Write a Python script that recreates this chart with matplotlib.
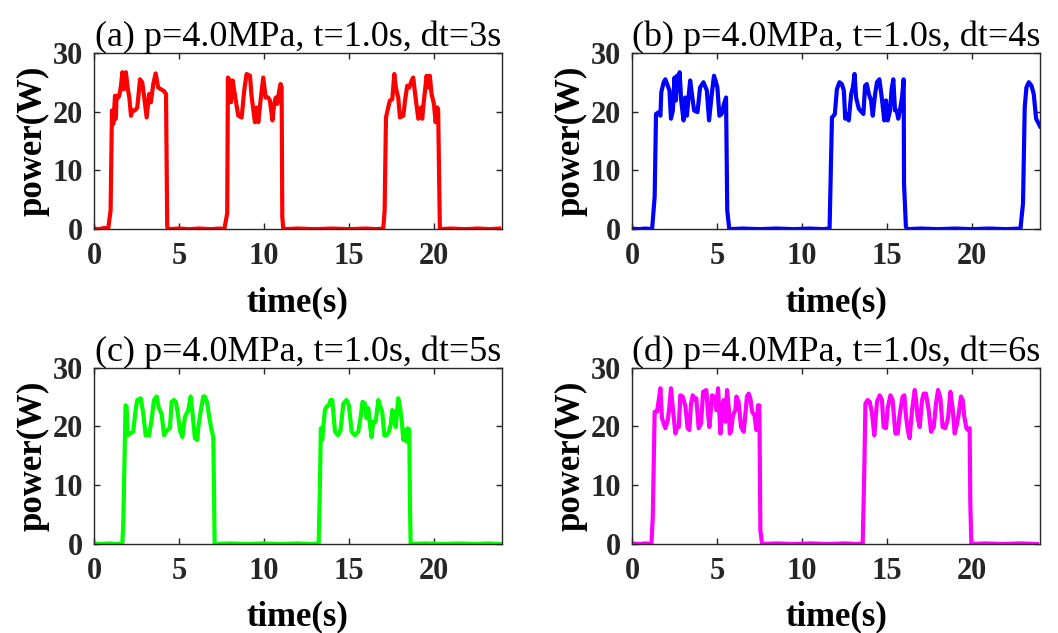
import matplotlib
matplotlib.use("Agg")
import matplotlib.pyplot as plt

plt.rcParams['font.family'] = ['Liberation Serif', 'DejaVu Serif']

# panel titles and colours
titles = ["(a) p=4.0MPa, t=1.0s, dt=3s", "(b) p=4.0MPa, t=1.0s, dt=4s",
          "(c) p=4.0MPa, t=1.0s, dt=5s", "(d) p=4.0MPa, t=1.0s, dt=6s"]
colors = ["#ff0000", "#0000ff", "#00ff00", "#ff00ff"]

# (a) dt=3s
t_a = [0, 0.3, 0.6, 0.84, 0.98, 1.06, 1.14, 1.24, 1.29, 1.33, 1.43, 1.49, 1.59, 1.67, 1.76, 1.82,
       1.88, 1.98, 2.08, 2.18, 2.27, 2.41, 2.55, 2.71, 2.84, 2.96, 3.10, 3.25, 3.35, 3.49, 3.63,
       3.78, 3.94, 4.12, 4.24, 4.31, 4.41, 5.0, 5.6, 6.2, 6.9, 7.4, 7.67, 7.84, 7.88, 8.0, 8.06,
       8.16, 8.25, 8.49, 8.69, 8.84, 8.98, 9.18, 9.27, 9.47, 9.57, 9.67, 9.8, 9.96, 10.1, 10.25,
       10.35, 10.5, 10.6, 10.7, 10.78, 10.9, 10.98, 11.04, 11.08, 11.14, 12.0, 13.0, 14.0, 15.0,
       16.0, 16.6, 17.02, 17.1, 17.18, 17.27, 17.41, 17.55, 17.67, 17.76, 17.9, 18.0, 18.2, 18.3,
       18.43, 18.55, 18.69, 18.78, 18.92, 19.08, 19.24, 19.31, 19.43, 19.57, 19.67, 19.76, 19.86,
       20.0, 20.1, 20.2, 20.25, 20.35, 21.0, 21.8, 22.6, 23.3, 23.84]
p_a = [0.1, 0, 0.2, 0.1, 3.2, 20.2, 17.9, 22.7, 18.8, 22.7, 22.4, 22.7, 24.4, 26.7, 23.8, 26.5,
       26.7, 24.1, 22.4, 19.3, 20.2, 20.2, 20.7, 25.5, 25.0, 22.4, 19.0, 23.0, 21.6, 24.7, 26.5,
       24.1, 23.8, 23.5, 23.0, 0.4, 0, 0.1, 0, 0.1, 0, 0.1, 0, 2.7, 25.8, 25.3, 21.6, 25.3, 23.6,
       19.3, 19.0, 23.6, 26.4, 26.1, 22.7, 18.2, 20.7, 18.2, 21.9, 25.8, 22.4, 22.4, 21.9, 18.5,
       21.3, 22.4, 21.3, 23.6, 24.7, 24.1, 2.1, 0, 0.1, 0, 0.1, 0, 0.1, 0, 0.1, 3.2, 19.0, 20.2,
       21.9, 22.1, 26.4, 24.1, 22.4, 19.0, 19.3, 21.9, 24.4, 24.1, 25.3, 25.8, 22.4, 18.8, 20.7,
       18.8, 22.4, 26.1, 24.1, 26.1, 23.0, 21.3, 18.2, 20.7, 20.2, 0, 0.1, 0, 0.1, 0, 0.1]

# (b) dt=4s
t_b = [0, 0.4, 0.8, 1.18, 1.33, 1.41, 1.57, 1.67, 1.72, 1.86, 1.96, 2.1, 2.2, 2.29, 2.4, 2.5,
       2.58, 2.64, 2.74, 2.8, 2.89, 3.03, 3.13, 3.23, 3.33, 3.42, 3.52, 3.65, 3.85, 4.0, 4.2,
       4.4, 4.53, 4.69, 4.82, 4.94, 5.02, 5.14, 5.27, 5.41, 5.53, 5.6, 5.72, 6.5, 7.5, 8.5, 9.5,
       10.5, 11.2, 11.62, 11.76, 11.86, 11.93, 12.05, 12.2, 12.34, 12.46, 12.54, 12.64, 12.75,
       12.89, 12.99, 13.09, 13.18, 13.34, 13.52, 13.61, 13.71, 13.81, 13.93, 14.06, 14.16, 14.3,
       14.41, 14.55, 14.69, 14.84, 14.94, 15.04, 15.18, 15.27, 15.37, 15.47, 15.57, 15.66, 15.76,
       15.88, 15.98, 16.0, 16.11, 16.2, 17.0, 18.0, 19.0, 20.0, 21.0, 22.0, 22.85, 23.0, 23.1,
       23.2, 23.34, 23.5, 23.63, 23.77, 24.0]
p_b = [0.1, 0, 0.1, 0, 5.5, 19.6, 19.9, 19.3, 23.3, 25.0, 25.5, 24.4, 23.6, 18.8, 20.2, 25.8,
       21.9, 26.1, 23.6, 26.7, 21.9, 18.5, 22.4, 19.3, 22.7, 25.3, 23.0, 20.2, 19.9, 24.1, 25.0,
       23.6, 18.5, 23.0, 26.1, 25.0, 24.1, 19.3, 19.6, 21.3, 22.4, 3.2, 0, 0.1, 0, 0.1, 0, 0.1, 0,
       0.1, 19.0, 19.3, 19.6, 23.8, 25.0, 24.7, 23.6, 18.8, 19.6, 18.5, 23.0, 24.1, 26.4, 22.4,
       20.5, 19.9, 19.6, 24.4, 24.7, 23.0, 21.9, 19.3, 23.0, 25.0, 25.5, 22.4, 18.5, 21.9, 18.5,
       20.2, 23.8, 25.5, 20.2, 20.2, 18.8, 20.2, 22.4, 25.5, 7.8, 0.4, 0, 0.1, 0, 0.1, 0, 0.1, 0,
       0.1, 4.4, 20.7, 24.1, 25.0, 24.4, 23.0, 18.8, 17.5]

# (c) dt=5s
t_c = [0, 0.4, 0.9, 1.3, 1.67, 1.73, 1.86, 1.92, 1.98, 2.12, 2.31, 2.45, 2.55, 2.75, 2.9, 3.04,
       3.24, 3.39, 3.53, 3.69, 3.82, 3.98, 4.12, 4.31, 4.47, 4.57, 4.71, 4.82, 4.92, 5.06, 5.2,
       5.35, 5.45, 5.55, 5.69, 5.8, 5.94, 6.08, 6.14, 6.29, 6.43, 6.53, 6.67, 6.78, 6.92, 7.02,
       7.06, 7.1, 8.0, 9.0, 10.0, 11.0, 12.0, 12.8, 13.22, 13.29, 13.35, 13.43, 13.49, 13.59,
       13.69, 13.82, 13.92, 14.02, 14.18, 14.37, 14.51, 14.67, 14.86, 15.0, 15.16, 15.35, 15.55,
       15.69, 15.8, 15.94, 16.04, 16.14, 16.24, 16.33, 16.43, 16.57, 16.73, 16.82, 16.96, 17.08,
       17.22, 17.35, 17.47, 17.55, 17.65, 17.75, 17.9, 18.0, 18.1, 18.2, 18.3, 18.39, 18.45,
       18.55, 18.59, 18.63, 19.5, 20.5, 21.5, 22.5, 23.2, 23.88]
p_c = [0.1, 0, 0.1, 0, 0.1, 4.0, 23.6, 23.4, 18.5, 18.8, 19.1, 22.8, 24.5, 24.8, 22.2, 18.5,
       18.5, 21.1, 24.5, 25.1, 23.1, 22.2, 18.5, 19.4, 19.7, 24.2, 24.5, 24.2, 22.5, 19.4, 18.2,
       21.6, 22.2, 22.8, 25.1, 22.2, 18.0, 17.7, 19.9, 22.8, 25.1, 25.1, 23.9, 21.6, 19.4, 18.2,
       9.7, 0, 0.1, 0, 0.1, 0, 0.1, 0, 0.1, 9.7, 19.7, 17.7, 19.9, 22.8, 23.4, 23.6, 24.5, 24.5,
       19.1, 18.5, 19.4, 23.9, 24.5, 23.6, 19.1, 18.5, 19.1, 21.6, 24.2, 23.9, 21.4, 23.1, 20.2,
       18.2, 20.8, 20.8, 24.5, 23.6, 22.5, 18.5, 18.5, 19.1, 20.5, 22.8, 22.5, 19.9, 24.8, 23.4,
       21.1, 17.7, 19.4, 17.4, 19.7, 19.4, 6.9, 0, 0.1, 0, 0.1, 0, 0.1, 0]

# (d) dt=6s
t_d = [0, 0.4, 0.8, 1.14, 1.22, 1.33, 1.47, 1.57, 1.67, 1.76, 1.96, 2.1, 2.2, 2.29, 2.41, 2.55,
       2.65, 2.75, 2.84, 2.98, 3.14, 3.27, 3.37, 3.47, 3.57, 3.67, 3.78, 3.92, 4.06, 4.18, 4.37,
       4.47, 4.55, 4.71, 4.84, 4.96, 5.06, 5.2, 5.29, 5.39, 5.49, 5.59, 5.69, 5.75, 5.82, 5.92,
       5.98, 6.08, 6.14, 6.27, 6.41, 6.57, 6.67, 6.76, 6.86, 6.96, 7.06, 7.2, 7.31, 7.41, 7.49,
       7.55, 7.65, 8.5, 9.5, 10.5, 11.5, 12.5, 13.2, 13.57, 13.67, 13.73, 13.86, 13.98, 14.12,
       14.25, 14.41, 14.57, 14.7, 14.8, 14.94, 15.04, 15.2, 15.33, 15.49, 15.63, 15.73, 15.82,
       15.92, 16.02, 16.12, 16.24, 16.33, 16.47, 16.63, 16.73, 16.8, 16.92, 17.06, 17.16, 17.29,
       17.45, 17.59, 17.75, 17.88, 18.0, 18.14, 18.27, 18.43, 18.59, 18.73, 18.86, 18.98, 19.12,
       19.22, 19.35, 19.45, 19.55, 19.67, 19.76, 19.86, 19.9, 19.96, 20.8, 21.8, 22.8, 23.82]
p_d = [0.1, 0, 0.1, 0, 4.6, 22.5, 22.5, 24.5, 26.5, 21.4, 19.7, 21.1, 23.4, 26.5, 22.8, 18.8,
       19.9, 19.9, 25.3, 25.1, 23.4, 19.7, 19.4, 23.9, 25.3, 24.5, 24.8, 19.7, 20.5, 25.9, 26.2,
       22.2, 19.9, 25.3, 25.1, 22.8, 26.5, 18.8, 22.8, 24.5, 20.8, 26.2, 23.1, 18.8, 19.1, 21.6,
       22.2, 22.8, 25.1, 24.2, 19.9, 19.1, 22.2, 25.1, 25.6, 24.8, 22.5, 21.9, 19.4, 23.6, 23.6,
       2.3, 0, 0.1, 0, 0.1, 0, 0.1, 0, 0.1, 13.7, 23.9, 24.5, 24.2, 22.2, 18.5, 24.2, 25.3, 24.5,
       19.9, 19.7, 23.1, 25.3, 24.5, 18.8, 18.8, 21.6, 23.4, 25.1, 25.3, 21.6, 19.1, 18.0, 22.8,
       26.2, 23.9, 21.6, 19.9, 24.5, 25.6, 25.6, 22.8, 19.1, 19.9, 23.9, 26.2, 24.8, 19.9, 19.7,
       21.4, 25.9, 23.1, 18.8, 20.5, 22.2, 25.1, 24.5, 21.6, 19.7, 19.4, 19.7, 6.9, 0, 0.1, 0,
       0.1, 0]

series = [(t_a, p_a), (t_b, p_b), (t_c, p_c), (t_d, p_d)]

fig = plt.figure(figsize=(10.58, 6.33), dpi=100)
lefts = [0.0888, 0.5974, 0.0888, 0.5974]
bottoms = [0.638, 0.638, 0.1406, 0.1406]
tc = '#262626'

for i in range(4):
    ax = fig.add_axes([lefts[i], bottoms[i], 0.3856, 0.2785])
    t, p = series[i]
    ax.plot(t, p, color=colors[i], lw=3)
    ax.set_xlim(0, 24)
    ax.set_ylim(0, 30)
    ax.set_xticks([0, 5, 10, 15, 20])
    ax.set_yticks([0, 10, 20, 30])
    ax.tick_params(direction='in', top=True, right=True, length=4, width=1,
                   labelsize=22, colors=tc)
    ax.tick_params(axis='y', pad=8)
    ax.tick_params(axis='x', pad=9)
    for lab in ax.get_xticklabels() + ax.get_yticklabels():
        lab.set_fontweight('bold')
    for s in ax.spines.values():
        s.set_color(tc)
        s.set_linewidth(1)
    ax.set_xlabel('time(s)', fontsize=25, fontweight='bold', labelpad=11)
    ax.set_ylabel('power(W)', fontsize=25, fontweight='bold', labelpad=2)
    ax.set_title(titles[i], fontsize=26, pad=5)

fig.savefig('out.png', dpi=100)
